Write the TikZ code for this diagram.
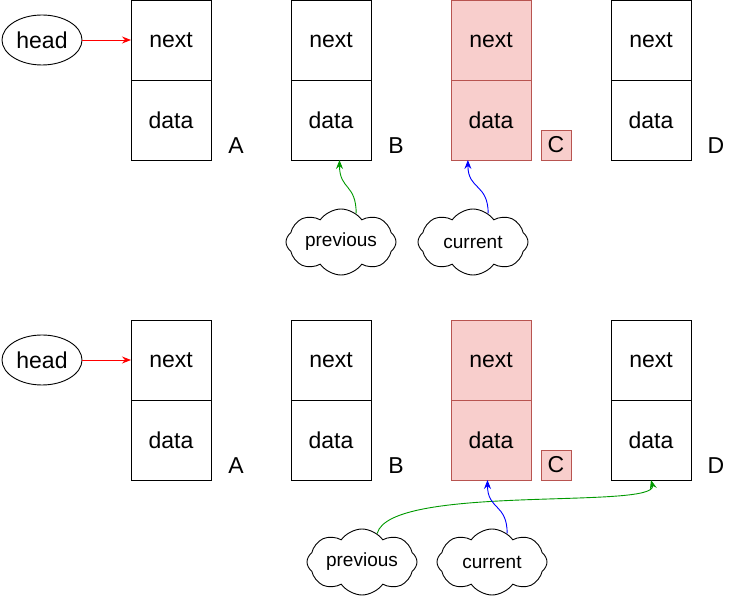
\documentclass[tikz,border=0pt]{standalone}
\usepackage{fontspec}
\setmainfont{Liberation Sans}
\usetikzlibrary{arrows.meta, positioning, shapes.geometric, shapes.symbols}
\definecolor{hlfill}{HTML}{F8CECC}
\definecolor{hldraw}{HTML}{B85450}
\definecolor{prevgreen}{HTML}{009900}

\begin{document}
\begin{tikzpicture}[
    x=1pt, y=-1pt,
    line width=0.9pt,
    node distance=0pt,
    >={Stealth[length=9pt, width=7pt, inset=3pt]},
    cell/.style={rectangle, draw, outer sep=0pt, inner sep=0pt, minimum width=80pt, minimum height=80pt, font=\fontsize{23}{27}\selectfont},
    hlcell/.style={cell, fill=hlfill, draw=hldraw},
    tag/.style={inner sep=0pt, font=\fontsize{23}{27}\selectfont},
    ptr/.style={cloud, cloud puffs=8, cloud puff arc=110, cloud ignores aspect, draw, inner sep=0pt, minimum width=110pt, minimum height=66pt, font=\fontsize{19}{23}\selectfont}
  ]
    \useasboundingbox (0,0) rectangle (732,601);

    % first list
    \node[draw, ellipse, tag, minimum width=80pt, minimum height=50pt] (head) at (42,40) {head};
    \node[cell] (nextA) at (171,40) {next};
    \node[cell, below=of nextA] (dataA) {data};
    \node[tag] (labA) at (236,146) {A};
    \node[cell] (nextB) at (331,40) {next};
    \node[cell, below=of nextB] (dataB) {data};
    \node[tag] (labB) at (396,146) {B};
    \node[hlcell] (nextC) at (491,40) {next};
    \node[hlcell, below=of nextC] (dataC) {data};
    \node[hlcell, minimum width=30pt, minimum height=30pt] (labC) at (556,145) {C};
    \node[cell] (nextD) at (651,40) {next};
    \node[cell, below=of nextD] (dataD) {data};
    \node[tag] (labD) at (716,146) {D};
    \node[ptr] (prevA) at (341,242) {previous};
    \node[ptr] (curA) at (473,242) {current};

    \draw[->, red] (head) -- (nextA);
    \draw[->, prevgreen] (prevA.62) .. controls +(0,-30) and +(0,30) .. (dataB.-78);
    \draw[->, blue] (curA.62) .. controls +(0,-30) and +(0,30) .. (dataC.-120);

    % second list
    \node[draw, ellipse, tag, minimum width=80pt, minimum height=50pt] (head2) at (42,360) {head};
    \node[cell] (nextA2) at (171,360) {next};
    \node[cell, below=of nextA2] (dataA2) {data};
    \node[tag] (labA2) at (236,466) {A};
    \node[cell] (nextB2) at (331,360) {next};
    \node[cell, below=of nextB2] (dataB2) {data};
    \node[tag] (labB2) at (396,466) {B};
    \node[hlcell] (nextC2) at (491,360) {next};
    \node[hlcell, below=of nextC2] (dataC2) {data};
    \node[hlcell, minimum width=30pt, minimum height=30pt] (labC2) at (556,465) {C};
    \node[cell] (nextD2) at (651,360) {next};
    \node[cell, below=of nextD2] (dataD2) {data};
    \node[tag] (labD2) at (716,466) {D};
    \node[ptr] (prevB) at (362,562) {previous};
    \node[ptr] (curB) at (492,562) {current};

    \draw[->, red] (head2) -- (nextA2);
    \draw[->, prevgreen] (prevB.62) .. controls +(13,-50) and +(8,30) .. (dataD2.south);
    \draw[->, blue] (curB.62) .. controls +(0,-30) and +(0,30) .. (dataC2.-95);
  \end{tikzpicture}
\end{document}
